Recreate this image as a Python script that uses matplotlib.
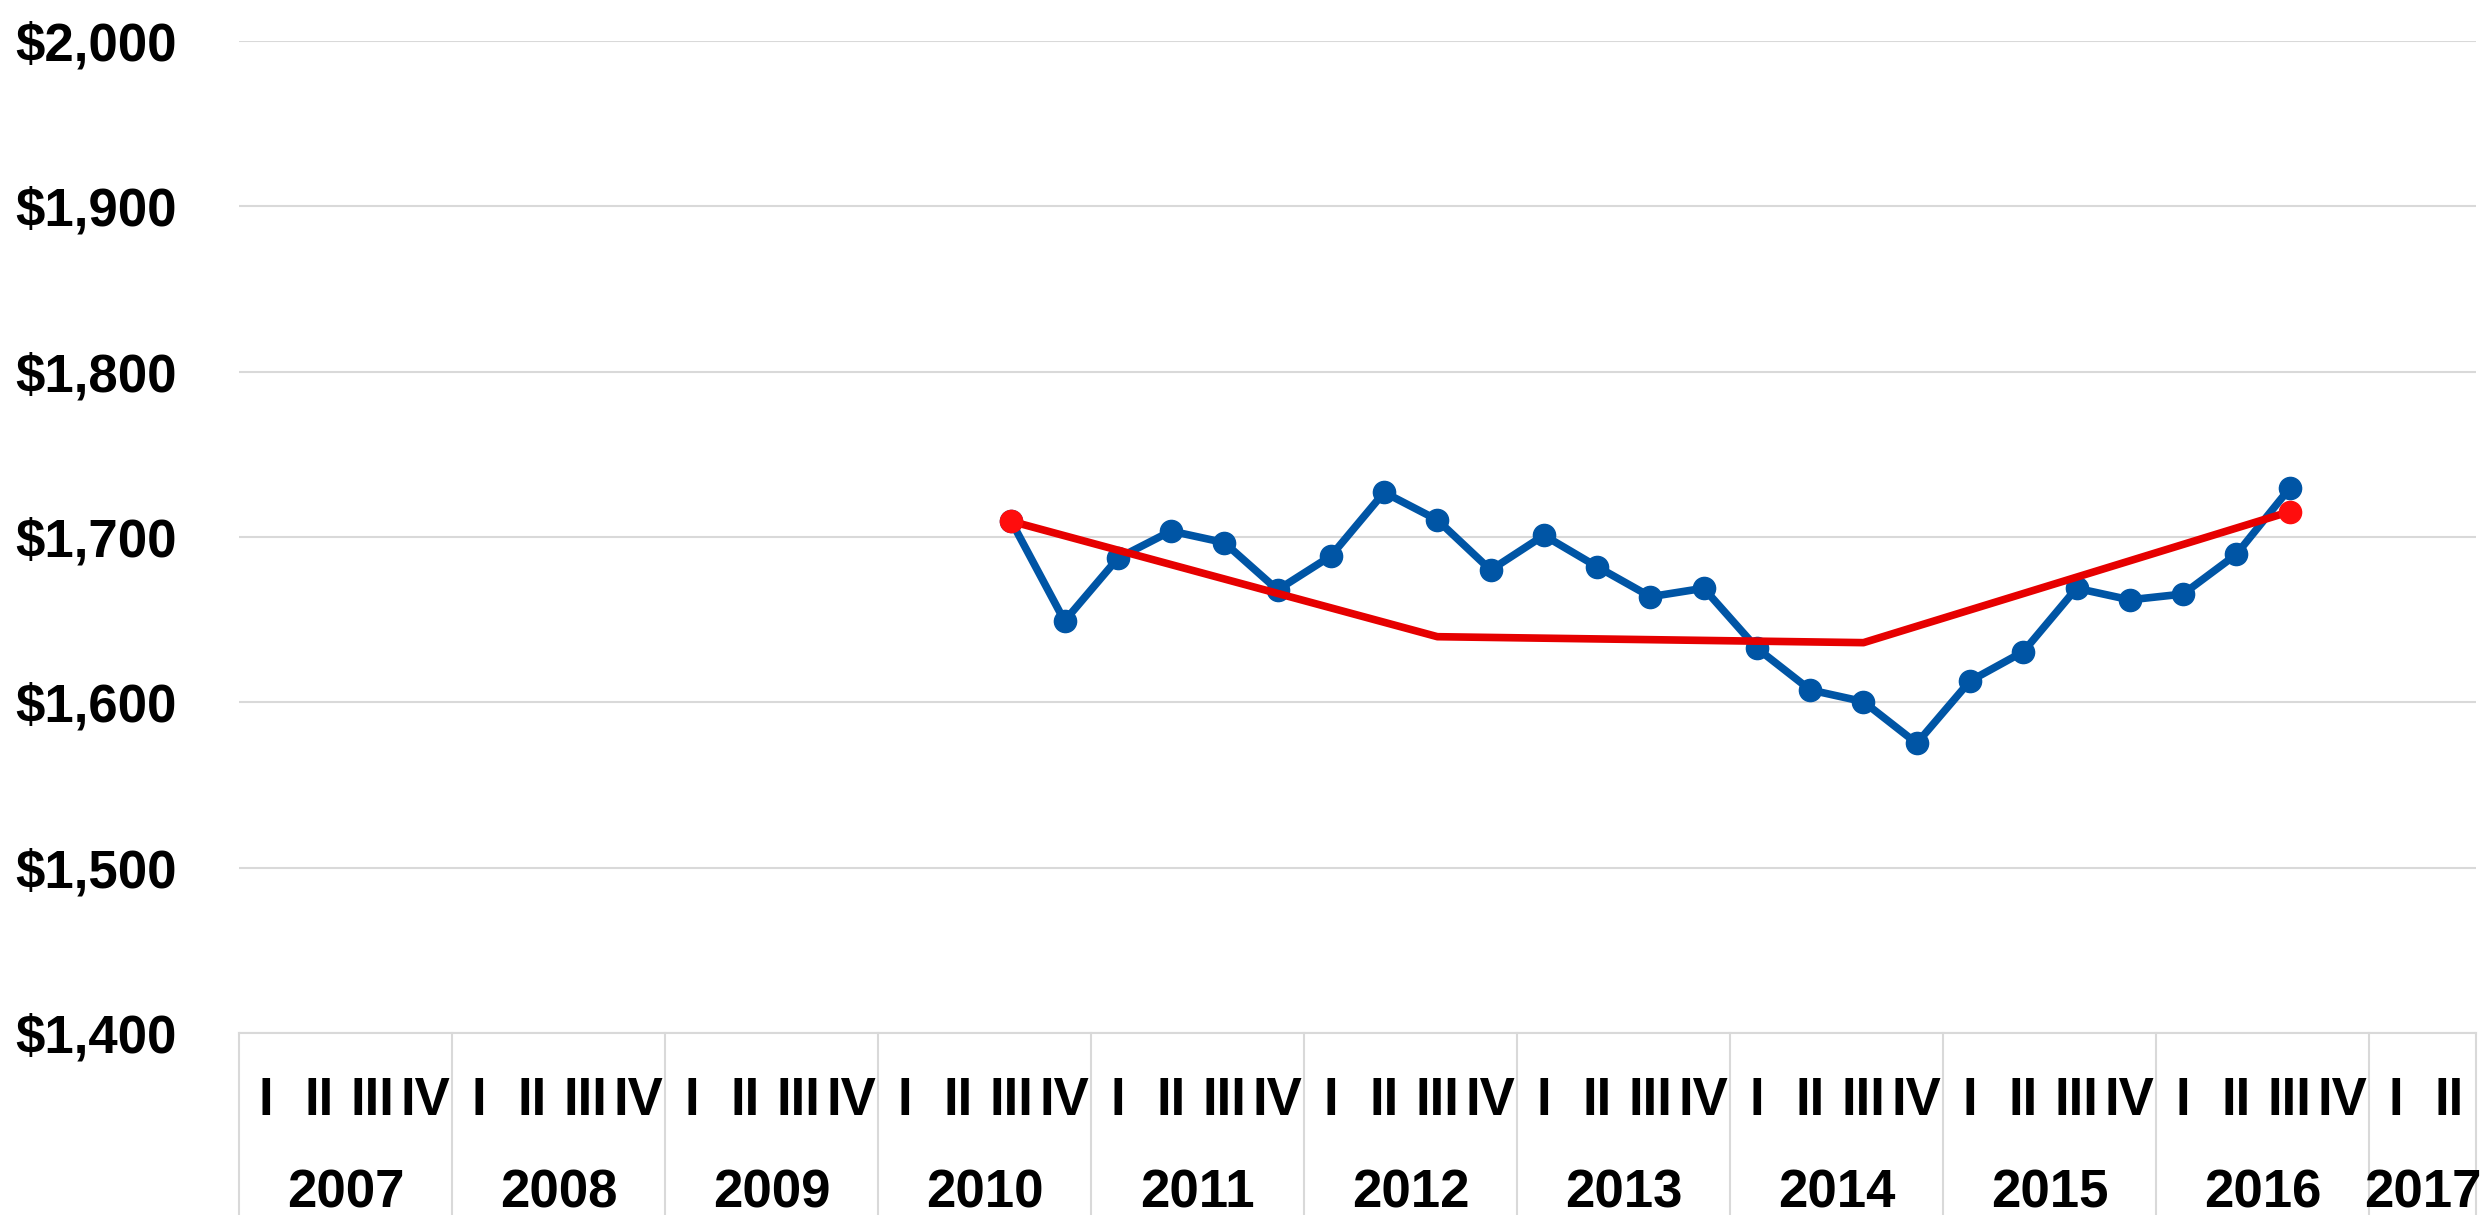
"""Quarterly dollar series, 2007-2017, with a biennial red trend line"""

import matplotlib
matplotlib.use("Agg")
import matplotlib.pyplot as plt

# ########################################################################## #
# Data #

lYears = ['2007', '2008', '2009', '2010', '2011', '2012', '2013', '2014',
          '2015', '2016', '2017']
lQtrs = ['I', 'II', 'III', 'IV']
nLastYrQtrs = 2  # 2017 only has I and II

# Blue series starts at 2010 Q3
sBlueStart = '2010-III'
lBlue = [1709.5, 1649.2, 1687.1, 1703.6, 1696.6, 1668.0, 1688.5, 1727.0,
         1710.3, 1680.0, 1701.0, 1682.0, 1663.9, 1669.0, 1632.7, 1607.5,
         1600.4, 1575.2, 1612.9, 1630.6, 1669.0, 1662.0, 1665.5, 1689.5,
         1729.4]

# Red series, one value every other year (Q3)
lRedCat = ['2010-III', '2012-III', '2014-III', '2016-III']
lRed = [1709.5, 1639.7, 1636.1, 1715.3]

lYTicks = [1400, 1500, 1600, 1700, 1800, 1900, 2000]

# ########################################################################## #
# Category positions #

lCats = []
for sYr in lYears[:-1]:
	for sQ in lQtrs:
		lCats.append('%s-%s' % (sYr, sQ))
for sQ in lQtrs[:nLastYrQtrs]:
	lCats.append('%s-%s' % (lYears[-1], sQ))

iStart = lCats.index(sBlueStart)
aBlueX = list(range(iStart, iStart + len(lBlue)))
aRedX = [lCats.index(s) for s in lRedCat]

# ########################################################################## #
# Plot #

plt.rcParams['font.family'] = ['Liberation Sans', 'DejaVu Sans']
plt.rcParams['font.weight'] = 'bold'

sGrid = '#d9d9d9'
sBlue = '#0055a5'
sRed = '#e60000'

fig = plt.figure(figsize=(24.81, 12.15), dpi=100)
ax = fig.add_axes([239/2481, 1 - 1033/1215, (2476 - 239)/2481, (1033 - 41)/1215])

ax.plot(aBlueX, lBlue, '-o', color=sBlue, lw=5.5, ms=16, zorder=3)
ax.plot(aRedX, lRed, '-', color=sRed, lw=5.5, zorder=4,
	marker='o', markevery=[0, len(lRed) - 1], ms=16,
	mfc='#ff0d0d', mec='#ff0d0d')

ax.set_xlim(-0.5, len(lCats) - 0.5)
ax.set_ylim(lYTicks[0], lYTicks[-1])
ax.set_yticks(lYTicks)
ax.set_yticklabels(['$%s' % format(v, ',') for v in lYTicks],
	fontsize=38, fontweight='bold')
ax.tick_params(axis='y', length=0, pad=45)
ax.set_xticks([])

ax.grid(axis='y', color=sGrid, lw=1.5)
ax.set_axisbelow(True)
for s in ['left', 'right', 'top']:
	ax.spines[s].set_visible(False)
ax.spines['bottom'].set_color(sGrid)
ax.spines['bottom'].set_linewidth(1.5)

# Two level category axis: quarters over years, with separators
trans = ax.get_xaxis_transform()
rFloor = -(1215 - 1033)/992.0
for i, sCat in enumerate(lCats):
	ax.text(i, -0.0822, sCat.split('-')[1], transform=trans, ha='center',
		va='baseline', fontsize=38, fontweight='bold', clip_on=False)

iPos = 0
for sYr in lYears:
	n = nLastYrQtrs if sYr == lYears[-1] else 4
	ax.plot([iPos - 0.5, iPos - 0.5], [0, rFloor], transform=trans,
		color=sGrid, lw=1.5, clip_on=False)
	ax.text(iPos - 0.5 + n/2.0, -0.1764, sYr, transform=trans, ha='center',
		va='baseline', fontsize=38, fontweight='bold', clip_on=False)
	iPos += n
ax.plot([iPos - 0.5, iPos - 0.5], [0, rFloor], transform=trans,
	color=sGrid, lw=1.5, clip_on=False)

fig.savefig('out.png', dpi=100, facecolor='white')
